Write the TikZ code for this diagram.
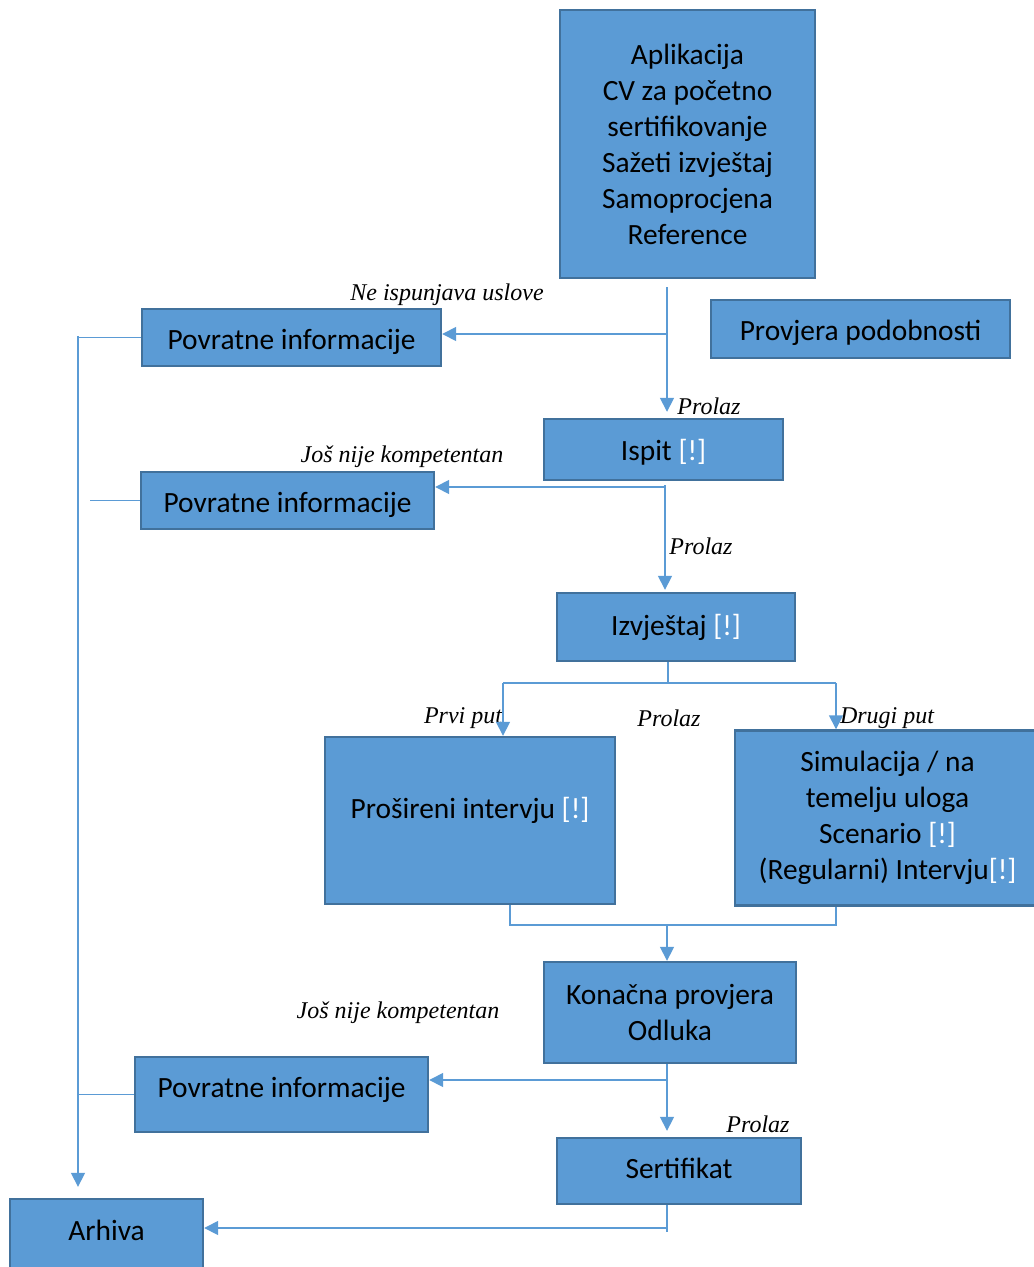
\documentclass[tikz,border=0pt]{standalone}
\usepackage{fontspec}
\setmainfont{Carlito}
\newfontfamily\lblfont{Liberation Serif}
\usetikzlibrary{arrows.meta,positioning,calc}
\definecolor{boxblue}{HTML}{5B9BD5}
\definecolor{boxedge}{HTML}{41719C}
\newcommand{\warn}{\textcolor{white}{[!]}}
\newcommand{\up}[2]{\raisebox{#1}[\height][\depth]{#2}}

\begin{document}
\begin{tikzpicture}[x=0.5pt,y=-0.5pt,% pixel grid, y runs down
		every node/.style={
			align=center		% so that "\\" breaks lines
		},
		box/.style={rectangle,draw=boxedge,line width=1.2pt,fill=boxblue,inner sep=0pt,
			font=\fontsize{14.7}{18}\selectfont},
		lbl/.style={inner sep=0pt,font=\lblfont\itshape\fontsize{12}{14}\selectfont},
		link/.style={draw=boxblue,line width=0.8pt},
		arr/.style={link,-{Triangle[width=7pt,length=7pt]}}
	]
	\useasboundingbox (0,0) rectangle (1033,1267);
	% boxes
	\node[box,minimum width=127.5pt,minimum height=134pt](apl) at (687.5,144){Aplikacija\\CV za početno\\sertifikovanje\\Sažeti izvještaj\\Samoprocjena\\Reference};
	\node[box,minimum width=149.5pt,minimum height=29pt](podob) at (860.5,329){\up{-2pt}{Provjera podobnosti}};
	\node[box,minimum width=149.5pt,minimum height=28.5pt](pov1) at (291.5,337.5){\up{-2pt}{Povratne informacije}};
	\node[box,minimum width=119.5pt,minimum height=30.5pt](ispit) at (663.5,449.5){\up{-1.5pt}{Ispit \warn}};
	\node[box,minimum width=146.5pt,minimum height=28.5pt](pov2) at (287.5,500.5){\up{-2pt}{Povratne informacije}};
	\node[box,minimum width=119pt,minimum height=34pt](izvj) at (676,627){Izvještaj \warn};
	\node[box,minimum width=145pt,minimum height=83.5pt](prosir) at (470,820.5){\up{5pt}{Prošireni intervju \warn}};
	\node[box,minimum width=152.5pt,minimum height=87.5pt](simul) at (887.5,818){Simulacija / na\\temelju uloga\\Scenario \warn\\(Regularni) Intervju\warn};
	\node[box,minimum width=126pt,minimum height=50.5pt](konac) at (670,1012.5){Konačna provjera\\Odluka};
	\node[box,minimum width=146.5pt,minimum height=37.5pt](pov3) at (281.5,1094.5){\up{2.5pt}{Povratne informacije}};
	\node[box,minimum width=122pt,minimum height=33pt](sertif) at (679,1171){\up{1.5pt}{Sertifikat}};
	\node[box,minimum width=96.5pt,minimum height=38pt](arhiva) at (106.5,1237){\up{3.5pt}{Arhiva}};
	% labels
	\node[lbl](ne) at (447,295){Ne ispunjava uslove};
	\node[lbl](prol1) at (709,406){Prolaz};
	\node[lbl](jos1) at (402,457){Još nije kompetentan};
	\node[lbl](prol2) at (701,546){Prolaz};
	\node[lbl](prvi) at (463,718){Prvi put};
	\node[lbl](prol3) at (669,718){Prolaz};
	\node[lbl](drugi) at (887,718){Drugi put};
	\node[lbl](jos2) at (398,1013){Još nije kompetentan};
	\node[lbl](prol4) at (758,1124){Prolaz};
	% junctions
	\coordinate (b1) at (667,334);
	\coordinate (b2) at (665,487);
	\coordinate (b3) at (668,683);
	\coordinate (l3) at (503,683);
	\coordinate (r3) at (836,683);
	\coordinate (l4) at (510,925);
	\coordinate (r4) at (836,925);
	\coordinate (b4) at (667,925);
	\coordinate (b5) at (667,1080);
	\coordinate (b6) at (667,1228);
	\coordinate (lv) at (78,336);
	% connectors
	\draw[link] ([yshift=-4pt]apl.south -| b1) -- (b1);
	\draw[arr,shorten >=3pt] (b1) -- (b1 |- ispit.north);
	\draw[arr] (b1) -- (b1 -| pov1.east);
	\draw[link] ([yshift=-2pt]ispit.south -| b2) -- (b2);
	\draw[arr,shorten >=1pt] (b2) -- (b2 |- izvj.north);
	\draw[arr] (b2) -- (b2 -| pov2.east);
	\draw[link] (izvj.south -| b3) -- (b3);
	\draw[link] (l3) -- (r3);
	\draw[arr] (l3) -- (l3 |- prosir.north);
	\draw[arr] (r3) -- (r3 |- simul.north);
	\draw[link] (prosir.south -| l4) -- (l4) -- (r4) -- (simul.south -| r4);
	\draw[arr] (b4) -- (b4 |- konac.north);
	\draw[link] (konac.south -| b5) -- (b5);
	\draw[arr,shorten >=3pt] (b5) -- (b5 |- sertif.north);
	\draw[arr] (b5) -- (b5 -| pov3.east);
	\draw[link] (sertif.south -| b6) -- ([yshift=-2pt]b6);
	\draw[arr] (b6) -- (b6 -| arhiva.east);
	\draw[arr,shorten >=5.5pt] (lv) -- (lv |- arhiva.north);
	\draw[link] (pov1.west) -- (pov1.west -| lv);
	\draw[link] (pov2.west) -- ([xshift=6pt]pov2.west -| lv);
	\draw[link] (pov3.west) -- (pov3.west -| lv);
\end{tikzpicture}
\end{document}
